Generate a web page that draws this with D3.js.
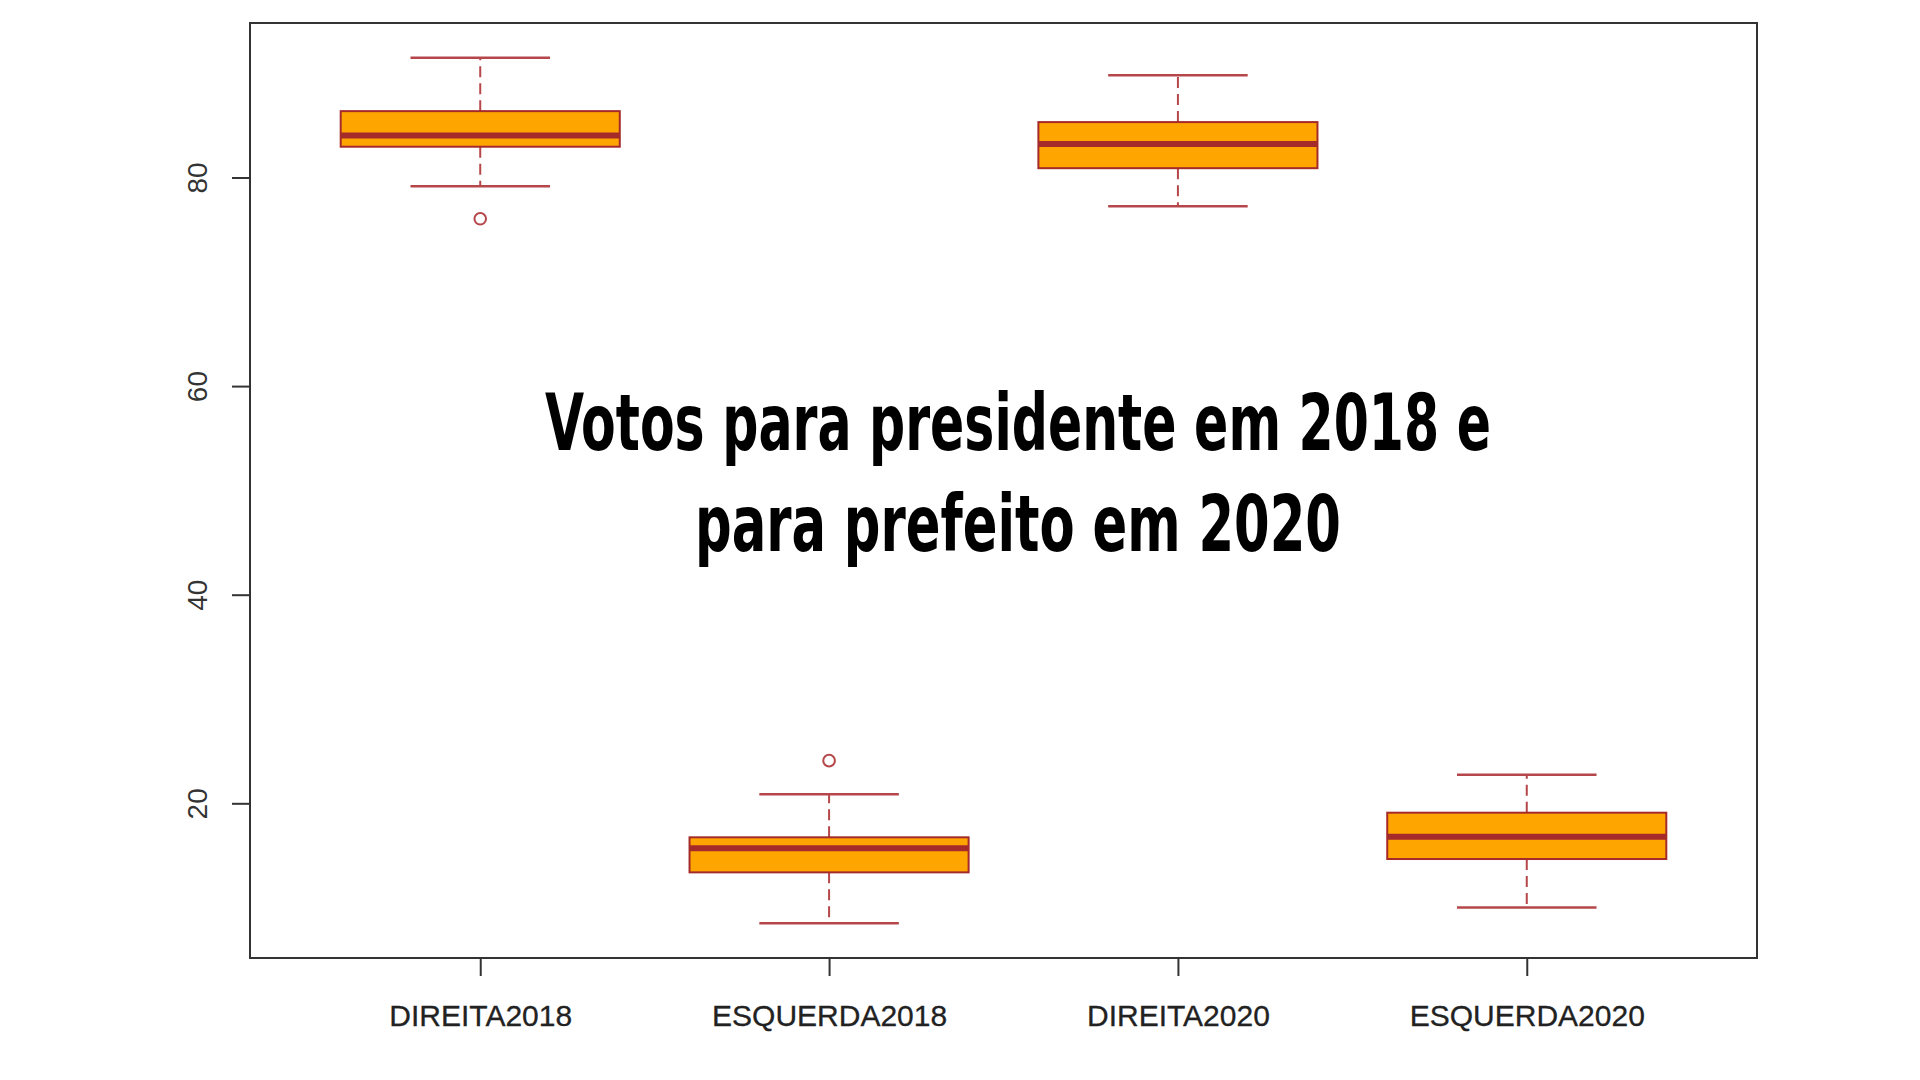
<!DOCTYPE html>
<html>
<head>
<meta charset="utf-8">
<script src="https://cdn.jsdelivr.net/npm/d3@7"></script>
<style>
  html, body { margin: 0; padding: 0; background: #ffffff; }
  svg { display: block; }
</style>
</head>
<body>
<script>
// ---- data ----
const categories   = ["DIREITA2018", "ESQUERDA2018", "DIREITA2020", "ESQUERDA2020"];
const lowerWhisker = [79.17, 8.49, 77.25, 10.02];
const q1           = [82.95, 13.38, 80.89, 14.66];
const median       = [84.03, 15.68, 83.20, 16.80];
const q3           = [86.36, 16.74, 85.31, 19.10];
const upperWhisker = [91.49, 20.86, 89.79, 22.75];
const outliers     = [[76.04], [24.09], [], []];
const yTicks       = [20, 40, 60, 80];
const titleLines   = ["Votos para presidente em 2018 e", "para prefeito em 2020"];

// ---- layout ----
const W = 1920, H = 1080;
const plot = { left: 250, right: 1757, top: 23, bottom: 958 };
const boxColor = "#a52a2a", fillColor = "#ffa500", whiskColor = "#b5474a";

const svg = d3.select("body").append("svg").attr("width", W).attr("height", H);
svg.append("rect").attr("width", W).attr("height", H).attr("fill", "#fff");

// R-style limits: 4% extension
const n = categories.length;
const xlo = 0.5, xhi = n + 0.5, xext = (xhi - xlo) * 0.04;
const x = d3.scaleLinear().domain([xlo - xext, xhi + xext]).range([plot.left, plot.right]);
const allVals = [].concat(lowerWhisker, upperWhisker, ...outliers);
const ymin = d3.min(allVals), ymax = d3.max(allVals), yext = (ymax - ymin) * 0.04;
const y = d3.scaleLinear().domain([ymin - yext, ymax + yext]).range([plot.bottom, plot.top]);

const data = categories.map((c, i) => ({
  c, pos: i + 1, lo: lowerWhisker[i], q1: q1[i], med: median[i], q3: q3[i], hi: upperWhisker[i], out: outliers[i]
}));

const boxHalf = 0.4, capHalf = 0.2;
const g = svg.append("g");
const grp = g.selectAll("g.box").data(data).join("g").attr("class", "box");

// whiskers (dashed)
grp.append("line")
  .attr("x1", d => x(d.pos)).attr("x2", d => x(d.pos))
  .attr("y1", d => y(d.q3)).attr("y2", d => y(d.hi))
  .attr("stroke", whiskColor).attr("stroke-width", 2).attr("stroke-dasharray", "11,6");
grp.append("line")
  .attr("x1", d => x(d.pos)).attr("x2", d => x(d.pos))
  .attr("y1", d => y(d.q1)).attr("y2", d => y(d.lo))
  .attr("stroke", whiskColor).attr("stroke-width", 2).attr("stroke-dasharray", "11,6");
// caps
grp.append("line")
  .attr("x1", d => x(d.pos - capHalf)).attr("x2", d => x(d.pos + capHalf))
  .attr("y1", d => y(d.hi)).attr("y2", d => y(d.hi))
  .attr("stroke", whiskColor).attr("stroke-width", 2.5);
grp.append("line")
  .attr("x1", d => x(d.pos - capHalf)).attr("x2", d => x(d.pos + capHalf))
  .attr("y1", d => y(d.lo)).attr("y2", d => y(d.lo))
  .attr("stroke", whiskColor).attr("stroke-width", 2.5);
// boxes
grp.append("rect")
  .attr("x", d => x(d.pos - boxHalf))
  .attr("width", d => x(d.pos + boxHalf) - x(d.pos - boxHalf))
  .attr("y", d => y(d.q3))
  .attr("height", d => y(d.q1) - y(d.q3))
  .attr("fill", fillColor).attr("stroke", boxColor).attr("stroke-width", 2);
// medians
grp.append("line")
  .attr("x1", d => x(d.pos - boxHalf)).attr("x2", d => x(d.pos + boxHalf))
  .attr("y1", d => y(d.med)).attr("y2", d => y(d.med))
  .attr("stroke", boxColor).attr("stroke-width", 6);
// outliers
grp.selectAll("circle").data(d => d.out.map(v => ({ pos: d.pos, v }))).join("circle")
  .attr("cx", d => x(d.pos)).attr("cy", d => y(d.v)).attr("r", 5.8)
  .attr("fill", "none").attr("stroke", whiskColor).attr("stroke-width", 2);

// frame
svg.append("rect")
  .attr("x", plot.left).attr("y", plot.top)
  .attr("width", plot.right - plot.left).attr("height", plot.bottom - plot.top)
  .attr("fill", "none").attr("stroke", "#333").attr("stroke-width", 2);

// y axis
const yAxis = svg.append("g").attr("transform", `translate(${plot.left},0)`)
  .call(d3.axisLeft(y).tickValues(yTicks).tickSize(18).tickFormat(d3.format("d")));
yAxis.select(".domain").remove();
yAxis.selectAll(".tick line").attr("stroke", "#333").attr("stroke-width", 2);
yAxis.selectAll(".tick text")
  .attr("x", null).attr("dy", null).attr("y", null)
  .attr("transform", "translate(-43,0) rotate(-90)")
  .attr("text-anchor", "middle")
  .attr("font-family", "'Liberation Sans', Arial, sans-serif")
  .attr("font-size", 28).attr("fill", "#333");

// x axis
const xAxis = svg.append("g").attr("transform", `translate(0,${plot.bottom})`)
  .call(d3.axisBottom(x).tickValues(data.map(d => d.pos)).tickSize(18)
    .tickFormat((d, i) => categories[i]));
xAxis.select(".domain").remove();
xAxis.selectAll(".tick line").attr("stroke", "#333").attr("stroke-width", 2);
xAxis.selectAll(".tick text")
  .attr("y", 68).attr("dy", null)
  .attr("font-family", "'Liberation Sans', Arial, sans-serif")
  .attr("font-size", 30).attr("fill", "#222")
  .attr("stroke", "#222").attr("stroke-width", 0.3);

// title overlay
const titleWidths = [946, 646];
const titleBase = [450, 551];
svg.append("g").selectAll("text").data(titleLines).join("text")
  .attr("x", 1018).attr("y", (d, i) => titleBase[i])
  .attr("text-anchor", "middle")
  .attr("textLength", (d, i) => titleWidths[i])
  .attr("lengthAdjust", "spacingAndGlyphs")
  .attr("font-family", "'DejaVu Sans Condensed', 'DejaVu Sans', sans-serif")
  .attr("font-stretch", "condensed")
  .attr("font-weight", "bold")
  .attr("font-size", 78)
  .attr("fill", "#000")
  .text(d => d);
</script>
</body>
</html>
